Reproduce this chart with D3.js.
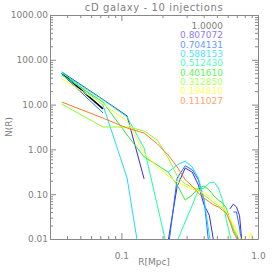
<!DOCTYPE html>
<html>
<head>
<meta charset="utf-8">
<script src="https://cdn.jsdelivr.net/npm/d3@7"></script>
<style>
  body { margin: 0; background: #fff; }
  text { font-family: "DejaVu Sans", sans-serif; fill: #808080; }
</style>
</head>
<body>
<div id="chart"></div>
<script>
// radial bins (Mpc)
const radii = [0.0366, 0.0733, 0.110, 0.1466, 0.183, 0.220, 0.256, 0.293, 0.330, 0.366, 0.403, 0.440, 0.476,
    0.513, 0.550, 0.586, 0.623, 0.660, 0.696, 0.733, 0.770, 0.806, 0.843, 0.880, 0.916, 0.953]

const labels = ["1.0000", "0.807072", "0.704131", "0.588153", "0.512430", "0.401610", "0.312850", "0.194810", "0.111027"]
const colors = ["#000000", "#3c28e6", "#1e6eff", "#19dcff", "#19ffa5", "#30f030", "#8cff1e", "#ffff28", "#ff7828"]
const textColors = ["#808080", "#8a7ef4", "#6a9aff", "#50e4ff", "#50ffc0", "#60f460", "#b0ff60", "#ffff60", "#ffa470"]

const s100 = [50.7, 8.0, null, null, null, null, null, null, null, null, null, null, null,
    null, null, null, null, null, null, null, null, null, null, null, null, null]
const s081 = [53.4, 13, 5.6, 0.22, null, 0.009, 0.15, 0.385, 0.31, 0.16, 0.057, 0.034, 0.008,
    null, null, null, 0.047, 0.06, 0.052, 0.033, 0.006, null, null, null, null, null]
const s070 = [48, 6.5, null, null, null, 0.006, 0.23, 0.43, 0.35, 0.21, 0.074, 0.006, null,
    null, null, null, null, 0.04, 0.04, 0.0176, 0.005, null, null, null, null, null]
const s059 = [53.4, 9.8, 0.23, 0.001, null, 0.31, 0.45, 0.55, 0.405, 0.23, 0.074, 0.0123, 0.003,
    null, null, null, null, null, null, null, null, null, null, null, null, null]
const s051 = [50.7, 12.7, 5.3, 1.07, 0.057, 0.005, 0.009, 0.024, 0.057, 0.124, 0.137, 0.178, 0.187,
    0.137, 0.074, 0.027, 0.0123, 0.006, null, null, null, null, null, null, null, null]
const s040 = [45.8, 11.4, 2.1, 0.68, 0.45, 0.31, 0.16, 0.074, 0.096, 0.137, 0.152, 0.124, 0.091,
    0.074, 0.064, 0.049, 0.027, 0.0159, 0.0117, 0.009, null, null, null, null, null, null]
const s031 = [10.3, 3.16, 3.16, 2.58, 1.62, 0.64, 0.255, 0.169, 0.145, 0.124, 0.096, 0.078, 0.064,
    0.055, 0.049, 0.038, 0.027, 0.0176, 0.0129, 0.009, null, null, null, null, null, null]
const s019 = [37.3, 10.3, 4.3, 0.83, 0.405, 0.255, 0.187, 0.152, 0.13, 0.118, 0.106, 0.091, 0.074,
    0.06, 0.052, 0.04, 0.029, 0.0216, 0.0159, 0.0123, 0.008, null, 0.009, 0.0136, 0.0111, 0.009]
const s011 = [11.4, 5.0, 3.0, 2.32, 1.33, 0.75, 0.405, 0.21, 0.152, 0.106, 0.082, 0.067, 0.057,
    0.052, 0.044, 0.038, 0.024, 0.0143, 0.0105, 0.008, null, null, null, null, null, null]

const series = [s100, s081, s070, s059, s051, s040, s031, s019, s011]

const W = 274, H = 274
const margin = {left: 50, right: 16, top: 15, bottom: 35}
const width = W - margin.left - margin.right
const height = H - margin.top - margin.bottom
const axisColor = "#888"

const svg = d3.select("#chart").append("svg")
    .attr("width", W)
    .attr("height", H)

const g = svg.append("g")
    .attr("transform", `translate(${margin.left},${margin.top})`)

const x = d3.scaleLog().domain([0.03, 1.0]).range([0, width])
const y = d3.scaleLog().domain([0.01, 1000]).range([height, 0])

g.append("clipPath").attr("id", "clip")
    .append("rect").attr("width", width).attr("height", height)

/* LINES */
const line = d3.line()
    .defined(d => d[1] != null)
    .x(d => x(d[0]))
    .y(d => y(d[1]))

const lines = g.append("g").attr("clip-path", "url(#clip)")
series.forEach((s, i) => {
    lines.append("path")
        .datum(radii.map((r, k) => [r, s[k]]))
        .attr("fill", "none")
        .attr("stroke", colors[i])
        .attr("stroke-width", i == 0 ? 1.6 : 1)
        .attr("d", line)
})

/* AXES */
const isMajor = v => Math.abs(Math.log10(v) - Math.round(Math.log10(v))) < 1e-6
const xTicks = x.ticks()
const yTicks = y.ticks()

function styleAxis(sel, horizontal, sign) {
    sel.select(".domain").attr("stroke", axisColor)
    sel.selectAll(".tick line")
        .attr("stroke", axisColor)
        .attr(horizontal ? "y2" : "x2", d => sign * (isMajor(d) ? 6 : 3))
    sel.selectAll(".tick text")
        .style("font-size", "9px")
        .style("fill", "#808080")
}

const fmtX = d => isMajor(d) ? d3.format(".1f")(d) : ""
const fmtY = d => isMajor(d) ? d3.format(".2f")(d) : ""

g.append("g")
    .attr("transform", `translate(0,${height})`)
    .call(d3.axisBottom(x).tickValues(xTicks).tickFormat(fmtX).tickSizeOuter(0).tickPadding(8))
    .call(a => styleAxis(a, true, -1))
    .call(a => a.selectAll(".tick text").attr("y", 14))

g.append("g")
    .call(d3.axisTop(x).tickValues(xTicks).tickFormat("").tickSizeOuter(0))
    .call(a => styleAxis(a, true, 1))

g.append("g")
    .call(d3.axisLeft(y).tickValues(yTicks).tickFormat(fmtY).tickSizeOuter(0).tickPadding(2))
    .call(a => styleAxis(a, false, 1))
    .call(a => a.selectAll(".tick text").attr("x", -2))

g.append("g")
    .attr("transform", `translate(${width},0)`)
    .call(d3.axisRight(y).tickValues(yTicks).tickFormat("").tickSizeOuter(0))
    .call(a => styleAxis(a, false, -1))

/* TITLES */
svg.append("text")
    .attr("x", margin.left + width / 2)
    .attr("y", 11)
    .attr("text-anchor", "middle")
    .style("font-size", "10px")
    .style("letter-spacing", "0.6px")
    .text("cD galaxy - 10 injections")

svg.append("text")
    .attr("x", margin.left + width / 2)
    .attr("y", 265)
    .attr("text-anchor", "middle")
    .style("font-size", "9px")
    .text("R[Mpc]")

svg.append("text")
    .attr("transform", `translate(12,${margin.top + height / 2}) rotate(-90)`)
    .attr("text-anchor", "middle")
    .style("font-size", "9px")
    .text("N(R)")

/* LEGEND */
labels.forEach((l, i) => {
    svg.append("text")
        .attr("x", 223)
        .attr("y", 29 + i * 9.35)
        .attr("text-anchor", "end")
        .style("font-size", "9px")
        .style("fill", textColors[i])
        .text(l)
})
</script>
</body>
</html>
